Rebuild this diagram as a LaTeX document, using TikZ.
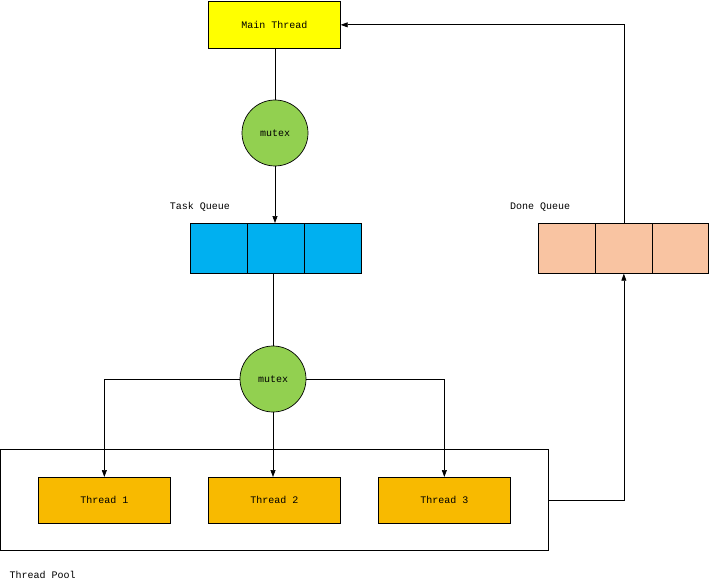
\documentclass[tikz,border=0pt]{standalone}
\usepackage{fontspec}
\setmainfont{Liberation Mono}
\usetikzlibrary{arrows.meta}
\definecolor{yel}{HTML}{FFFF00}
\definecolor{cyanq}{HTML}{00B0F0}
\definecolor{peach}{HTML}{F9C4A2}
\definecolor{orng}{HTML}{F8BA00}
\definecolor{grn}{HTML}{92D050}
\begin{document}
\begin{tikzpicture}[x=1pt,y=-1pt,
  box/.style={draw,inner sep=0pt,anchor=north west,font=\fontsize{10}{12}\selectfont},
  mtx/.style={draw,circle,fill=grn,minimum size=66pt,inner sep=0pt,font=\fontsize{10}{12}\selectfont},
  cell/.style={draw,inner sep=0pt,anchor=north west,minimum width=57pt,minimum height=50pt},
  lbl/.style={font=\fontsize{10}{12}\selectfont},
  arr/.style={-{Triangle[length=7pt,width=5pt]}},
  line width=0.7pt]
\useasboundingbox (0,0) rectangle (709,588);
\node[box,fill=yel,minimum width=132pt,minimum height=47pt] (main) at (208,1) {Main Thread};
\node[mtx] (m1) at (275,133) {mutex};
\node[lbl] (tql) at (200,207) {Task Queue};
\node[cell,fill=cyanq] (t1) at (190,223) {};
\node[cell,fill=cyanq] (t2) at (247,223) {};
\node[cell,fill=cyanq] (t3) at (304,223) {};
\node[lbl] (dql) at (540,207) {Done Queue};
\node[cell,fill=peach] (d1) at (538,223) {};
\node[cell,fill=peach] (d2) at (595,223) {};
\node[cell,fill=peach,minimum width=56pt] (d3) at (652,223) {};
\node[mtx] (m2) at (273,379) {mutex};
\node[box,minimum width=548pt,minimum height=101pt] (pool) at (0,449) {};
\node[box,fill=orng,minimum width=132pt,minimum height=46pt] (th1) at (38,477) {Thread 1};
\node[box,fill=orng,minimum width=132pt,minimum height=46pt] (th2) at (208,477) {Thread 2};
\node[box,fill=orng,minimum width=132pt,minimum height=46pt] (th3) at (378,477) {Thread 3};
\node[lbl,anchor=west] (pl) at (6,575) {Thread Pool};
\draw (main.south -| m1) -- (m1.north);
\draw[arr] (m1.south) -- (t2.north -| m1);
\draw (t2.south -| m2) -- (m2.north);
\draw[arr] (m2.west) -| (th1.north);
\draw[arr] (m2.south) -- (th2.north -| m2);
\draw[arr] (m2.east) -| (th3.north);
\draw[arr] (pool.east |- th1) -| (d2.south);
\draw[arr] (d2.north) |- (main.east);
\end{tikzpicture}
\end{document}
